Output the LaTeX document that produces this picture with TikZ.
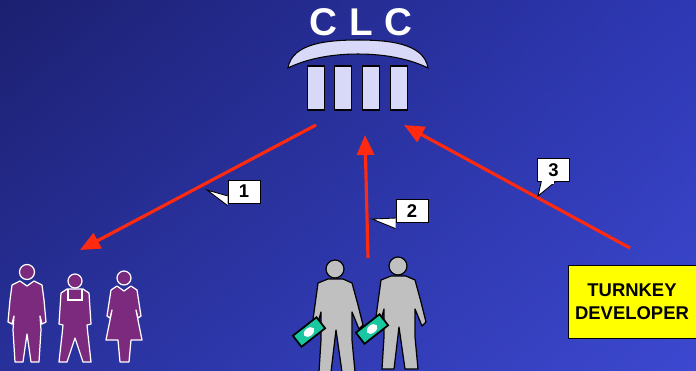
\documentclass[tikz,border=0pt]{standalone}
\usepackage{fontspec}
\setmainfont{Liberation Sans}
\usepackage{tikz}
\usetikzlibrary{arrows.meta, positioning, shadings}
\definecolor{BgTL}   {HTML}{1C2070}
\definecolor{BgTR}   {HTML}{2E38B4}
\definecolor{BgBL}   {HTML}{28309A}
\definecolor{BgBR}   {HTML}{3C48D0}
\definecolor{Lilac}  {HTML}{D8D8F8}
\definecolor{Plum}   {HTML}{7B2A7E}
\definecolor{Stone}  {HTML}{C0C0C0}
\definecolor{Cash}   {HTML}{19C8A0}
\definecolor{Flame}  {HTML}{FF2A10}
\definecolor{Lemon}  {HTML}{FFFF00}

\tikzset{
  column/.style={draw=black, fill=Lilac, line width=0.6pt},
  userfig/.style={draw=white, fill=Plum, line width=0.7pt, line join=round},
  buyerfig/.style={draw=black, fill=Stone, line width=0.7pt, line join=round},
  flow/.style={draw=Flame, line width=1.8pt, -{Triangle[length=0.4cm, width=0.34cm]}},
  callout/.style={draw=black, fill=white, line width=0.5pt,
                  minimum width=0.64cm, minimum height=0.46cm, inner sep=0pt,
                  font=\fontsize{10.5}{12}\selectfont\bfseries},
}

\begin{document}
\begin{tikzpicture}[x=0.02cm, y=-0.02cm]
  \useasboundingbox (0,0) rectangle (696,370);
  % backdrop
  \shade[upper left=BgTL, upper right=BgTR, lower left=BgBL, lower right=BgBR]
    (0,0) rectangle (696,370);

  % building: title, roof and columns
  \node[text=white, font=\fontsize{22}{26}\selectfont\bfseries] (clc) at (361,22)
    {C\hspace{0.3em}L\hspace{0.3em}C};
  \draw[column] (288,68) .. controls (292,43) and (328,40) .. (358,40)
    .. controls (388,40) and (424,43) .. (428,68)
    .. controls (412,60) and (388,54) .. (358,54)
    .. controls (328,54) and (304,60) .. (288,68) -- cycle;
  \foreach \cx in {316,343,371,399}
    \draw[column] (\cx-8.5,66) rectangle (\cx+8.5,110);

  % users: man, worker, woman
  \draw[userfig] (20,281) -- (27,286) -- (34,281) -- (42,285) -- (44,300)
    -- (46,322) -- (42,324) -- (40,316) -- (41,330) -- (39,362) -- (31,362)
    -- (27,334) -- (23,362) -- (15,362) -- (13,330) -- (14,316) -- (12,324)
    -- (8,322) -- (10,300) -- (12,285) -- cycle;
  \draw[userfig] (27,272) circle (7.5);
  \draw[userfig] (67,289) -- (83,289) -- (89,293) -- (91,324) -- (87,325)
    -- (88,335) -- (91,362) -- (83,362) -- (75,338) -- (67,362) -- (59,362)
    -- (62,335) -- (63,325) -- (59,324) -- (61,293) -- cycle;
  \draw[white, line width=0.7pt] (68,289) -- (68,300) -- (82,300) -- (82,289);
  \draw[userfig] (75,281) circle (7);
  \draw[userfig] (117,286) -- (124,291) -- (131,286) -- (137,290) -- (141,316)
    -- (138,318) -- (136,310) -- (142,340) -- (131,340) -- (129,362)
    -- (120,362) -- (118,340) -- (106,340) -- (112,310) -- (110,318)
    -- (107,316) -- (111,290) -- cycle;
  \draw[userfig] (124,278) circle (7);
  \coordinate (users) at (80,250);

  % buyers with banknotes
  \foreach \sx/\sy in {0/0, 63/-3} {
    \begin{scope}[shift={(\sx,\sy)}]
      \draw[buyerfig] (328,279) -- (343,279) -- (352,283) -- (358,305)
        -- (363,325) -- (359,329) -- (352,312) -- (352,340) -- (355,372)
        -- (342,372) -- (336,330) -- (331,372) -- (319,372) -- (321,340)
        -- (321,312) -- (316,330) -- (312,327) -- (315,305) -- (318,283) -- cycle;
      \draw[buyerfig] (335,269) circle (9);
      \begin{scope}[shift={(309,332)}, rotate=38]
        \draw[draw=black, fill=Cash, line width=1pt] (-15,-7) rectangle (15,7);
        \draw[fill=white, draw=none] (0,0) ellipse (6 and 4);
      \end{scope}
    \end{scope}
  }
  \coordinate (buyers) at (368,258);

  % developer
  \node[draw=black, fill=Lemon, minimum width=2.56cm, minimum height=1.46cm,
        align=center, font=\fontsize{10.5}{13}\selectfont\bfseries]
        (turnkey) at (632,301.5) {TURNKEY\\DEVELOPER};
  \coordinate (devout) at (630,248);

  % flows between the parties
  \coordinate (roofL) at (316,125);
  \coordinate (roofM) at (365,135);
  \coordinate (roofR) at (404,125);
  \draw[flow] (roofL) -- (users);
  \draw[flow] (buyers) -- (roofM);
  \draw[flow] (devout) -- (roofR);

  % numbered callouts
  \node[callout] (lab1) at (244,191.5) {1};
  \coordinate (tip1) at (207,190);
  \node[callout] (lab2) at (412,211) {2};
  \coordinate (tip2) at (372,219);
  \node[callout] (lab3) at (553.5,170) {3};
  \coordinate (tip3) at (538,196);
  \filldraw[fill=white, draw=black, line width=0.5pt]
    ([yshift=-2.5]lab1.west) -- (tip1) -- ([yshift=-8]lab1.west);
  \filldraw[fill=white, draw=black, line width=0.5pt]
    ([yshift=-4]lab2.west) -- (tip2) -- ([yshift=-10]lab2.west);
  \filldraw[fill=white, draw=black, line width=0.5pt]
    ([xshift=-7]lab3.south) -- (tip3) -- ([xshift=1]lab3.south);
  \fill[white] ([xshift=-6.5,yshift=0.5]lab3.south) rectangle ([xshift=0.5,yshift=-1]lab3.south);
\end{tikzpicture}
\end{document}
